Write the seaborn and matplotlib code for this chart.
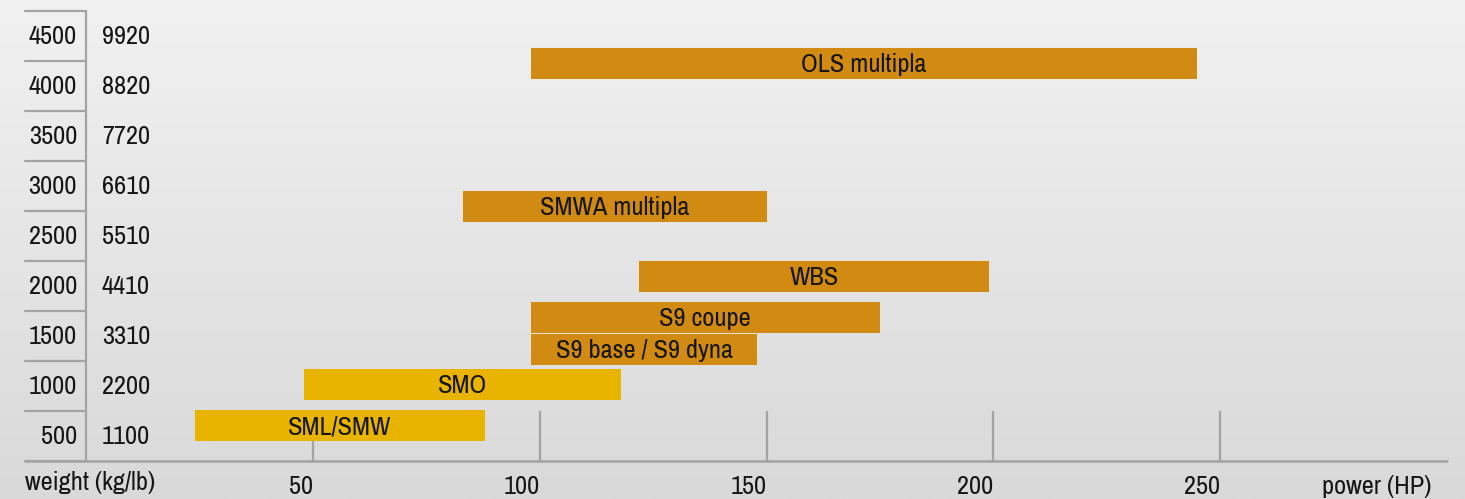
import numpy as np
import pandas as pd
import seaborn as sns
import matplotlib
matplotlib.use("Agg")
import matplotlib.pyplot as plt
from matplotlib import font_manager as fm
from matplotlib import transforms
from matplotlib.colors import LinearSegmentedColormap

# ---- data ----
models = ["SML/SMW", "SMO", "S9 base / S9 dyna", "S9 coupe", "WBS", "SMWA multipla", "OLS multipla"]
hp_min = [24, 48, 98, 98, 122, 83, 98]
hp_max = [88, 118, 148, 175, 199, 150, 245]
weight_kg = [355, 770, 1120, 1440, 1850, 2550, 3980]
family = ["small", "small", "large", "large", "large", "large", "large"]
kg_ticks = [500, 1000, 1500, 2000, 2500, 3000, 3500, 4000, 4500]
lb_ticks = [1100, 2200, 3310, 4410, 5510, 6610, 7720, 8820, 9920]
hp_ticks = [50, 100, 150, 200, 250]

df = pd.DataFrame({"model": models, "hp_min": hp_min, "hp_max": hp_max,
                   "weight": weight_kg, "family": family})

sns.set_theme(style="white")
names = {f.name for f in fm.fontManager.ttflist}
prefs = [("Liberation Sans Narrow", 19.5), ("Arial Narrow", 19.5), ("Archivo Narrow", 19),
         ("Roboto Condensed", 18.5), ("PT Sans Narrow", 19), ("Fira Sans Condensed", 17),
         ("Pragati Narrow", 19), ("Liberation Sans", 16)]
fam, FS = next(((n, s) for n, s in prefs if n in names), ("DejaVu Sans", 15))
plt.rcParams["font.family"] = [fam, "DejaVu Sans"]

palette = {"small": "#E8B400", "large": "#D18A12"}
GRAY = "#A3A3A3"
TXT = "#151515"

W, H = 1465, 499
fig = plt.figure(figsize=(W / 100, H / 100), dpi=100)

# background gradient
bg = fig.add_axes([0, 0, 1, 1])
cmap = LinearSegmentedColormap.from_list("bg", ["#F1F1F1", "#D9D9D9"])
grad = np.linspace(0, 1, 256).reshape(-1, 1)
bg.imshow(grad, aspect="auto", cmap=cmap, extent=[0, 1, 0, 1])
bg.axis("off")

x0, x1 = 86, 1447
ytop, ybot = 11, 461
ax = fig.add_axes([x0 / W, (H - ybot) / H, (x1 - x0) / W, (ybot - ytop) / H])
ax.patch.set_alpha(0)
for s in ax.spines.values():
    s.set_visible(False)
ax.set_xlim(0, 300)
ax.set_ylim(0, 4500)
ax.set_xticks([])
ax.set_yticks([])

# vertical gridlines in lowest band
ax.vlines(hp_ticks, 0, 500, color=GRAY, lw=1.6, zorder=1)

# bars
bar_h = 310
for _, r in df.iterrows():
    ax.barh(r["weight"], r["hp_max"] - r["hp_min"], left=r["hp_min"], height=bar_h,
            color=palette[r["family"]], edgecolor="none", zorder=2)
    ax.text((r["hp_min"] + r["hp_max"]) / 2, r["weight"] - 15, r["model"], ha="center",
            va="center", fontsize=FS, color=TXT, zorder=3)

# left scale
left_frac = (25 - x0) / (x1 - x0)
bt = transforms.blended_transform_factory(ax.transAxes, ax.transData)
for yv in [0] + kg_ticks:
    ax.plot([left_frac, 0], [yv, yv], transform=bt, color=GRAY, lw=1.6, clip_on=False, zorder=1)
ax.plot([0, 0], [0, 4500], color=GRAY, lw=1.6, clip_on=False, zorder=1)
ax.plot([left_frac, 1], [0, 0], transform=bt, color=GRAY, lw=1.8, clip_on=False, zorder=1)

kg_x = (77 - x0) / (x1 - x0)
lb_x = (102 - x0) / (x1 - x0)
for kg, lb in zip(kg_ticks, lb_ticks):
    yc = kg - 250
    ax.text(kg_x, yc, str(kg), transform=bt, ha="right", va="center", fontsize=FS, color=TXT)
    ax.text(lb_x, yc, str(lb), transform=bt, ha="left", va="center", fontsize=FS, color=TXT)

# x tick labels
bt2 = transforms.blended_transform_factory(ax.transData, ax.transAxes)
ylab = (ybot - 486) / (ybot - ytop)
for t in hp_ticks:
    ax.text(t, ylab, str(t), transform=bt2, ha="right", va="center", fontsize=FS, color=TXT)
ax.text((1432 - x0) / (x1 - x0), ylab, "power (HP)", transform=ax.transAxes,
        ha="right", va="center", fontsize=FS, color=TXT)
ax.text((25 - x0) / (x1 - x0), (ybot - 483) / (ybot - ytop), "weight (kg/lb)",
        transform=ax.transAxes, ha="left", va="center", fontsize=FS, color=TXT)

fig.savefig("out.png", dpi=100)
